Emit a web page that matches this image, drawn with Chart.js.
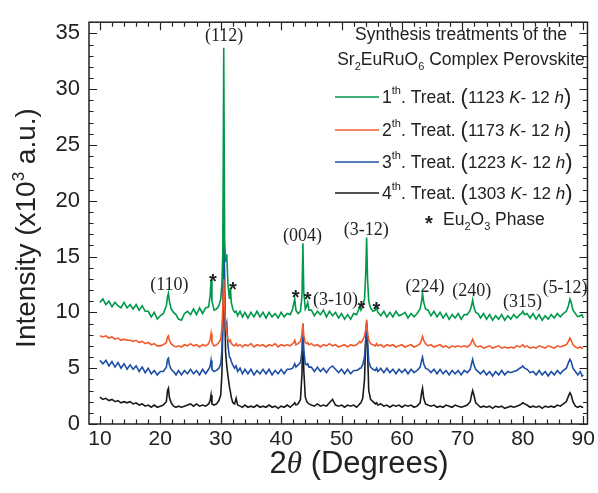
<!DOCTYPE html>
<html>
<head>
<meta charset="utf-8">
<script src="https://cdn.jsdelivr.net/npm/chart.js@4.4.0/dist/chart.umd.min.js"></script>
<style>
  html, body { margin: 0; padding: 0; background: #fff; }
  #xrd { display: block; }
</style>
</head>
<body>
<canvas id="xrd" width="598" height="493"></canvas>
<script>
// 2theta grid (degrees), denser around reflections
var twoTheta = [
  10, 10.5, 11, 11.5, 12, 12.5, 13, 13.5, 14, 14.5,
  15, 15.5, 16, 16.5, 17, 17.5, 18, 18.5, 19, 19.5,
  20, 20.5, 21.0, 21.2, 21.35, 21.5, 21.8, 22.2, 22.6, 23,
  23.5, 24, 24.5, 25, 25.5, 26, 26.5, 27, 27.5, 28,
  28.25, 28.4, 28.55, 28.9, 29.3, 29.7, 30.0, 30.2, 30.35, 30.5,
  30.65, 30.8, 31.0, 31.2, 31.45, 31.6, 31.75, 32.0, 32.3, 32.55,
  32.8, 33.2, 33.6, 34, 34.5, 35, 35.5, 36, 36.5, 37,
  37.5, 38, 38.5, 39, 39.5, 40, 40.5, 41, 41.5, 41.9,
  42.1, 42.25, 42.45, 42.8, 43.2, 43.45, 43.6, 43.75, 44.0, 44.25,
  44.4, 44.6, 45, 45.5, 46, 46.5, 47, 47.5, 48, 48.5,
  49, 49.5, 50, 50.5, 51, 51.5, 52, 52.5, 52.85, 53.0,
  53.2, 53.5, 53.8, 54.0, 54.15, 54.3, 54.5, 54.8, 55.2, 55.6,
  55.8, 56.0, 56.5, 57, 57.5, 58, 58.5, 59, 59.5, 60,
  60.5, 61, 61.5, 62, 62.5, 63.0, 63.25, 63.4, 63.6, 63.9,
  64.3, 64.8, 65.3, 65.8, 66.3, 66.8, 67.3, 67.8, 68.3, 68.8,
  69.3, 69.8, 70.3, 70.8, 71.3, 71.55, 71.7, 71.9, 72.2, 72.6,
  73, 73.5, 74, 74.5, 75, 75.5, 76, 76.5, 77, 77.5,
  78, 78.5, 79, 79.5, 79.8, 80.0, 80.3, 80.7, 81.2, 81.7,
  82.2, 82.7, 83.2, 83.7, 84.2, 84.7, 85.2, 85.7, 86.2, 86.7,
  87.2, 87.55, 87.8, 88.0, 88.3, 88.7, 89.1, 89.5, 89.8, 90
];

// intensities (x10^3 a.u.), one row per row of twoTheta
var treat1 = [
  10.9, 11.2, 10.7, 11.0, 10.5, 10.9, 10.6, 10.4, 10.9, 10.4,
  10.7, 10.3, 10.7, 10.2, 10.6, 10.1, 10.1, 9.6, 10.0, 9.4,
  9.7, 9.9, 10.6, 11.4, 11.7, 11.0, 10.3, 10.0, 9.8, 9.4,
  9.3, 9.9, 10.1, 9.8, 10.3, 9.8, 10.4, 9.9, 10.4, 10.5,
  11.5, 12.9, 11.0, 10.2, 10.3, 10.6, 11.2, 12.6, 15.5, 33.7,
  16.5, 14.5, 15.2, 12.5, 11.2, 12.2, 10.9, 10.3, 10.0, 10.1,
  9.7, 10.1, 9.6, 10.0, 9.5, 10.0, 9.6, 10.1, 9.6, 10.0,
  9.5, 10.0, 9.6, 9.9, 9.5, 10.0, 9.6, 9.9, 9.8, 10.3,
  10.8, 11.2, 10.2, 9.9, 10.1, 11.5, 16.2, 11.8, 10.3, 10.6,
  10.9, 10.2, 10.2, 9.7, 10.1, 9.8, 10.2, 9.6, 10.1, 9.7,
  10.0, 9.5, 9.9, 9.4, 9.8, 9.4, 9.9, 9.8, 10.3, 10.5,
  10.2, 10.6, 11.2, 13.5, 16.7, 13.0, 11.0, 10.4, 10.1, 10.2,
  10.5, 10.0, 9.7, 10.1, 9.6, 10.0, 9.6, 10.1, 9.7, 9.8,
  10.0, 9.5, 9.9, 9.6, 9.9, 10.3, 11.0, 11.7, 10.9, 10.3,
  10.2, 9.7, 10.1, 9.6, 10.0, 9.5, 9.9, 9.4, 9.8, 9.5,
  9.9, 9.4, 9.8, 9.8, 10.2, 10.7, 11.1, 10.5, 10.0, 9.9,
  9.5, 9.9, 9.4, 9.8, 9.3, 9.7, 9.4, 9.8, 9.3, 9.7,
  9.4, 9.8, 9.5, 9.8, 9.9, 10.1, 9.8, 9.9, 9.5, 9.9,
  9.4, 9.8, 9.3, 9.7, 9.4, 9.8, 9.5, 9.9, 9.6, 9.9,
  10.1, 10.6, 11.2, 10.9, 10.2, 9.9, 9.6, 9.7, 9.8, 9.5
];
var treat2 = [
  7.9, 7.8, 7.9, 7.7, 7.8, 7.6, 7.7, 7.5, 7.6, 7.5,
  7.5, 7.4, 7.5, 7.3, 7.4, 7.2, 7.3, 7.1, 7.2, 7.0,
  7.0, 7.1, 7.3, 7.8, 7.9, 7.5, 7.2, 7.0, 6.9, 7.0,
  6.9, 7.1, 7.0, 7.2, 7.0, 7.1, 6.9, 7.1, 7.0, 7.2,
  7.6, 8.1, 7.3, 7.0, 7.1, 7.3, 7.6, 8.6, 10.5, 13.0,
  10.5, 9.0, 8.2, 7.6, 7.4, 7.5, 7.2, 7.1, 7.0, 7.2,
  7.0, 7.1, 6.9, 7.1, 7.0, 7.2, 6.9, 7.1, 7.0, 7.1,
  6.9, 7.1, 7.0, 7.2, 6.9, 7.1, 7.0, 7.1, 7.0, 7.2,
  7.3, 7.5, 7.1, 7.2, 7.4, 8.0, 9.0, 7.9, 7.3, 7.2,
  7.3, 7.1, 7.2, 7.0, 7.1, 6.9, 7.1, 7.0, 7.2, 7.0,
  7.1, 6.9, 7.0, 7.1, 6.9, 7.1, 7.0, 7.1, 7.3, 7.4,
  7.3, 7.5, 7.9, 8.5, 9.0, 8.2, 7.5, 7.2, 7.1, 7.0,
  7.2, 7.0, 7.1, 6.9, 7.1, 7.0, 7.1, 6.9, 7.0, 7.1,
  6.9, 7.0, 7.1, 6.9, 7.0, 7.2, 7.6, 7.85, 7.5, 7.2,
  7.0, 7.1, 6.9, 7.0, 7.1, 6.9, 7.0, 6.8, 7.0, 6.9,
  7.0, 6.9, 7.0, 6.9, 7.1, 7.4, 7.6, 7.3, 7.0, 6.9,
  7.0, 6.8, 6.9, 7.0, 6.8, 6.9, 7.0, 6.8, 6.9, 6.8,
  6.9, 6.8, 7.0, 6.9, 7.0, 7.1, 6.9, 7.0, 6.8, 6.9,
  6.8, 7.0, 6.9, 6.8, 7.0, 6.9, 6.8, 7.0, 6.9, 7.0,
  7.1, 7.4, 7.7, 7.5, 7.1, 6.9, 6.8, 6.9, 6.8, 6.8
];
var treat3 = [
  5.7, 5.4, 5.7, 5.2, 5.6, 5.1, 5.5, 5.0, 5.4, 4.9,
  5.3, 4.9, 5.2, 4.7, 5.1, 4.6, 5.0, 4.5, 4.8, 4.4,
  4.7, 4.7, 5.1, 5.8, 5.9, 5.3, 4.9, 4.7, 4.4, 4.8,
  4.4, 4.8, 4.5, 4.9, 4.5, 4.8, 4.4, 4.9, 4.5, 4.9,
  5.2, 5.7, 4.9, 4.7, 4.8, 5.0, 5.4, 6.5, 9.5, 20.2,
  12.0, 8.5, 9.0, 7.0, 6.0, 5.9, 5.6, 5.3, 5.0, 5.2,
  4.7, 5.0, 4.5, 4.9, 4.5, 4.9, 4.4, 4.8, 4.5, 4.9,
  4.5, 4.9, 4.4, 4.8, 4.5, 4.9, 4.5, 4.9, 4.9, 5.0,
  5.2, 5.4, 5.1, 5.3, 5.5, 6.5, 9.0, 6.6, 5.4, 5.3,
  5.4, 5.1, 5.1, 4.7, 5.1, 4.7, 5.0, 4.6, 5.0, 5.2,
  4.9, 4.6, 4.9, 4.5, 4.9, 4.5, 4.8, 4.8, 4.9, 5.0,
  5.0, 5.3, 6.0, 7.5, 9.3, 7.5, 5.6, 5.1, 4.9, 4.8,
  5.0, 4.7, 5.0, 4.6, 5.0, 4.6, 4.9, 4.5, 4.9, 4.6,
  4.9, 4.5, 4.9, 4.6, 4.8, 5.1, 5.7, 6.0, 5.4, 5.0,
  4.9, 4.6, 4.9, 4.5, 4.9, 4.5, 4.8, 4.4, 4.8, 4.5,
  4.8, 4.4, 4.8, 4.6, 4.9, 5.5, 5.8, 5.3, 4.9, 4.7,
  4.5, 4.8, 4.4, 4.7, 4.3, 4.7, 4.4, 4.8, 4.4, 4.7,
  4.6, 4.7, 4.8, 5.0, 5.1, 5.2, 5.0, 4.9, 4.6, 4.7,
  4.4, 4.8, 4.4, 4.7, 4.3, 4.7, 4.4, 4.8, 4.5, 4.8,
  5.0, 5.5, 5.8, 5.6, 5.0, 4.7, 4.4, 4.7, 4.3, 4.4
];
var treat4 = [
  2.4, 2.2, 2.3, 2.1, 2.2, 2.0, 2.1, 1.9, 2.0, 1.9,
  2.0, 1.8, 1.9, 1.7, 1.8, 1.6, 1.7, 1.5, 1.7, 1.5,
  1.6, 1.7, 2.0, 3.0, 3.2, 2.4, 1.9, 1.6, 1.5, 1.6,
  1.5, 1.6, 1.7, 1.8, 1.6, 1.8, 1.6, 1.7, 1.6, 1.8,
  2.1, 2.6, 1.8, 1.7, 1.8, 2.1, 2.6, 4.5, 9.0, 18.0,
  11.0, 6.5, 5.2, 4.3, 3.3, 2.9, 2.4, 1.9, 1.8, 2.3,
  1.7, 1.6, 1.5, 1.7, 1.5, 1.6, 1.5, 1.7, 1.5, 1.6,
  1.5, 1.7, 1.5, 1.6, 1.4, 1.6, 1.5, 1.7, 1.5, 1.7,
  1.8, 1.9, 1.7, 1.8, 2.2, 4.5, 8.6, 4.8, 2.4, 2.0,
  1.9, 1.8, 1.7, 1.6, 1.8, 1.6, 1.7, 1.6, 1.9, 2.2,
  1.7, 1.6, 1.7, 1.5, 1.7, 1.6, 1.7, 1.5, 1.7, 1.8,
  1.9, 2.3, 4.0, 7.5, 9.0, 6.5, 3.0, 2.2, 2.0, 1.8,
  1.9, 1.7, 1.8, 1.6, 1.7, 1.5, 1.7, 1.6, 1.7, 1.5,
  1.7, 1.6, 1.7, 1.5, 1.6, 1.9, 2.8, 3.2, 2.3, 1.8,
  1.7, 1.6, 1.7, 1.5, 1.6, 1.5, 1.7, 1.6, 1.5, 1.7,
  1.6, 1.5, 1.6, 1.7, 2.0, 2.7, 3.0, 2.6, 1.9, 1.7,
  1.5, 1.6, 1.5, 1.6, 1.4, 1.6, 1.5, 1.6, 1.4, 1.5,
  1.6, 1.5, 1.6, 1.7, 1.8, 1.9, 1.8, 1.7, 1.5, 1.6,
  1.5, 1.6, 1.4, 1.6, 1.5, 1.6, 1.5, 1.7, 1.6, 1.8,
  2.0, 2.5, 2.8, 2.6, 2.0, 1.6, 1.5, 1.6, 1.5, 1.5
];

var ordinals = ["1", "2", "3", "4"];
var temps = ["1123", "1173", "1223", "1303"];
var colors = ["#00984a", "#f15a2b", "#1d4fa6", "#1a1a1a"];

var xTicks = [10, 20, 30, 40, 50, 60, 70, 80, 90];
var yTicks = [0, 5, 10, 15, 20, 25, 30, 35];

// reflection labels, placed in data coordinates
var hklLabels = ["(112)", "(110)", "(004)", "(3-12)", "(3-10)", "(224)", "(240)", "(315)", "(5-12)"];
var hklX = [30.55, 21.5, 43.55, 54.1, 49.0, 63.8, 71.55, 79.95, 87.0];
var hklY = [34.7, 12.45, 16.85, 17.4, 11.1, 12.25, 11.9, 10.9, 12.2];
// Eu2O3 markers
var starX = [28.7, 32.0, 42.4, 44.4, 53.3, 55.75];
var starY = [13.15, 12.45, 11.75, 11.55, 10.75, 10.7];

var SANS = '"Liberation Sans", Arial, sans-serif';
var SERIF = '"Liberation Serif", "Times New Roman", serif';

function pts(ys) {
    var out = [];
    for (var i = 0; i < twoTheta.length && i < ys.length; i++) {
        out.push({x: twoTheta[i], y: ys[i]});
    }
    return out;
}

// draw a run of text pieces [text, font, dy] starting at x (or centred on x)
function drawRich(c, x, y, parts, centred) {
    var w = 0;
    parts.forEach(function(p){ c.font = p[1]; w += c.measureText(p[0]).width; });
    var cx = centred ? x - w / 2 : x;
    parts.forEach(function(p){
        c.font = p[1];
        c.fillText(p[0], cx, y + (p[2] || 0));
        cx += c.measureText(p[0]).width;
    });
}

var decor = {
    id: 'decor',
    afterDatasetsDraw: function(chart) {
        var c = chart.ctx, a = chart.chartArea;
        var xs = chart.scales.x, ys = chart.scales.y;
        c.save();
        c.strokeStyle = '#222';
        c.lineWidth = 1.5;
        c.strokeRect(a.left, a.top, a.right - a.left, a.bottom - a.top);

        // inward ticks on all four sides
        c.lineWidth = 1.2;
        c.beginPath();
        for (var v = 10; v <= 90; v += 2) {
            var len = (v % 10 === 0) ? 8 : 4.5;
            var px = Math.round(xs.getPixelForValue(v)) + 0.5;
            c.moveTo(px, a.bottom); c.lineTo(px, a.bottom - len);
            c.moveTo(px, a.top); c.lineTo(px, a.top + len);
        }
        for (var w = 0; w <= 36; w++) {
            var l2 = (w % 5 === 0) ? 8 : 4.5;
            var py = Math.round(ys.getPixelForValue(w)) + 0.5;
            c.moveTo(a.left, py); c.lineTo(a.left + l2, py);
            c.moveTo(a.right, py); c.lineTo(a.right - l2, py);
        }
        c.stroke();

        // reflection labels
        c.fillStyle = '#222';
        c.textAlign = 'center';
        c.textBaseline = 'middle';
        c.font = '18px ' + SERIF;
        for (var i = 0; i < hklLabels.length; i++) {
            c.fillText(hklLabels[i], xs.getPixelForValue(hklX[i]), ys.getPixelForValue(hklY[i]));
        }
        c.textBaseline = 'alphabetic';
        c.font = 'bold 20px ' + SANS;
        for (var j = 0; j < starX.length; j++) {
            c.fillText('*', xs.getPixelForValue(starX[j]), ys.getPixelForValue(starY[j]) + 11);
        }

        // legend block
        c.textAlign = 'left';
        var f = '17.5px ' + SANS, sm = '11px ' + SANS;
        drawRich(c, 461, 40, [["Synthesis treatments of the", f]], true);
        drawRich(c, 461, 65, [["Sr", f], ["2", sm, 5], ["EuRuO", f], ["6", sm, 5], [" Complex Perovskite", f]], true);
        var rows = [97, 130, 162, 193];
        for (var k = 0; k < ordinals.length; k++) {
            c.strokeStyle = colors[k];
            c.lineWidth = 1.3;
            c.beginPath();
            c.moveTo(335, rows[k]); c.lineTo(379, rows[k]);
            c.stroke();
            c.fillStyle = '#222';
            var it = 'italic 17px ' + SANS, n = '17px ' + SANS, par = '22px ' + SANS;
            drawRich(c, 382, rows[k] + 6, [
                [ordinals[k], f], ["th", sm, -9], [". Treat. ", f], ["(", par, 1],
                [temps[k] + " ", n], ["K", it], ["- 12 ", n], ["h", it], [")", par, 1]
            ], false);
        }
        c.font = 'bold 20px ' + SANS;
        c.fillText('*', 425, 230);
        drawRich(c, 443, 225, [["Eu", f], ["2", sm, 5], ["O", f], ["3", sm, 5], [" Phase", f]], false);

        // axis titles
        c.fillStyle = '#222';
        c.save();
        c.translate(35, 228);
        c.rotate(-Math.PI / 2);
        var tf = '28px ' + SANS;
        drawRich(c, 0, 0, [["Intensity (x10", tf], ["3", '17px ' + SANS, -11], [" a.u.)", tf]], true);
        c.restore();
        var xf = '31px ' + SANS;
        drawRich(c, 359, 473, [["2", xf], ["\u03b8", 'italic 31px ' + SERIF], [" (Degrees)", xf]], true);
        c.restore();
    }
};

var ctx = document.getElementById('xrd').getContext('2d');
var chart = new Chart(ctx, {
    type: 'line',
    data: {
        datasets: [
            { label: '1th', data: pts(treat1), borderColor: colors[0] },
            { label: '2th', data: pts(treat2), borderColor: colors[1] },
            { label: '3th', data: pts(treat3), borderColor: colors[2] },
            { label: '4th', data: pts(treat4), borderColor: colors[3] }
        ]
    },
    options: {
        responsive: false,
        animation: false,
        devicePixelRatio: 1,
        layout: { padding: { left: 0, top: 16, right: 9, bottom: 0 } },
        elements: {
            point: { radius: 0 },
            line: { borderWidth: 1.6, tension: 0 }
        },
        plugins: { legend: { display: false }, tooltip: { enabled: false } },
        scales: {
            x: {
                type: 'linear', min: 8.2, max: 90.7,
                grid: { display: false, drawTicks: false },
                border: { display: false },
                ticks: { color: '#222', padding: 3, maxRotation: 0, font: { family: SANS, size: 21 } },
                afterBuildTicks: function(s){ s.ticks = xTicks.map(function(v){ return {value: v}; }); },
                afterFit: function(s){ s.height = 69; }
            },
            y: {
                type: 'linear', min: 0, max: 36,
                grid: { display: false, drawTicks: false },
                border: { display: false },
                ticks: { color: '#222', padding: 9, font: { family: SANS, size: 22 } },
                afterBuildTicks: function(s){ s.ticks = yTicks.map(function(v){ return {value: v}; }); },
                afterFit: function(s){ s.width = 89; }
            }
        }
    },
    plugins: [decor]
});
</script>
</body>
</html>
